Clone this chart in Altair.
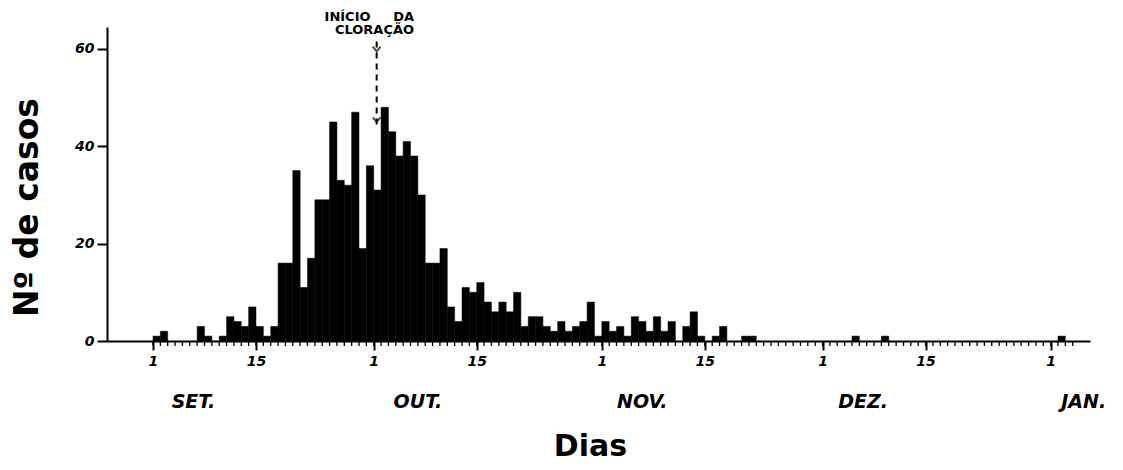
import altair as alt
import pandas as pd

# day offset from 1 September, and daily number of cases
day = [0, 1, 6, 7, 9, 10, 11, 12, 13, 14, 15, 16, 17, 18, 19, 20, 21, 22, 23, 24,
       25, 26, 27, 28, 29, 30, 31, 32, 33, 34, 35, 36, 37, 38, 39, 40, 41, 42, 43, 44,
       45, 46, 47, 48, 49, 50, 51, 52, 53, 54, 55, 56, 57, 58, 59, 60, 61, 62, 63, 64,
       65, 66, 67, 68, 69, 70, 72, 73, 74, 76, 77, 80, 81, 95, 99, 123]
cases = [1, 2, 3, 1, 1, 5, 4, 3, 7, 3, 1, 3, 16, 16, 35, 11, 17, 29, 29, 45,
         33, 32, 47, 19, 36, 31, 48, 43, 38, 41, 38, 30, 16, 16, 19, 7, 4, 11, 10, 12,
         8, 6, 8, 6, 10, 3, 5, 5, 3, 2, 4, 2, 3, 4, 8, 1, 4, 2, 3, 1,
         5, 4, 2, 5, 2, 4, 3, 6, 1, 1, 3, 1, 1, 1, 1, 1]

month_names = ["SET.", "OUT.", "NOV.", "DEZ.", "JAN."]
month_pos = [5.5, 36.0, 66.5, 96.5, 126.5]
first_days = [0, 30, 61, 91, 122]
mid_days = [14, 44, 75, 105]
day_ticks = list(range(0, 126))
y_ticks = [0, 20, 40, 60]

annot_lines = ["INÍCIO\u00a0\u00a0\u00a0\u00a0\u00a0DA", "CLORAÇÃO"]
annot_x = [29.4, 30.1]
annot_y = [66.5, 63.8]
arrow_day = 30.4

FONT = "DejaVu Sans"

bars_df = pd.DataFrame({"day": day, "cases": cases})
bars_df["day_end"] = bars_df["day"] + 1

label_expr = ("indexof([0,30,61,91,122], datum.value) >= 0 ? '1' : "
              "(indexof([14,44,75,105], datum.value) >= 0 ? '15' : '')")

x_scale = alt.Scale(domain=[-6.25, 127.35], nice=False, zero=False)
y_scale = alt.Scale(domain=[0, 64.5], nice=False)

bars = alt.Chart(bars_df).mark_bar(color="black", stroke="black", strokeWidth=0.5).encode(
    x=alt.X("day:Q", scale=x_scale, axis=alt.Axis(
        values=first_days + mid_days, labelExpr=label_expr, grid=False,
        tickSize=9, tickWidth=2,
        tickColor="black", domainColor="black", domainWidth=2,
        labelFont=FONT, labelFontSize=14, labelFontStyle="italic", labelFontWeight="bold",
        labelColor="black", labelPadding=4, labelFlush=False, labelOverlap=False,
        title="Dias", titleFont=FONT, titleFontSize=30, titleFontWeight="bold",
        titleColor="black", titleX=483, titleY=105, titleAnchor="middle",
        titleBaseline="middle", titleAlign="center")),
    x2="day_end:Q",
    y=alt.Y("cases:Q", scale=y_scale, axis=alt.Axis(
        values=y_ticks, grid=False, tickSize=10, tickWidth=2, tickColor="black",
        domainColor="black", domainWidth=2,
        labelFont=FONT, labelFontSize=14, labelFontStyle="italic", labelFontWeight="bold",
        labelColor="black", labelPadding=3,
        title="Nº de casos", titleFont=FONT, titleFontSize=33, titleFontWeight="bold",
        titleColor="black", titleX=-80, titleY=180, titleAngle=-90,
        titleAlign="center", titleBaseline="middle")),
    y2=alt.datum(0),
)

ticks_df = pd.DataFrame({"day": day_ticks})
minor_ticks = alt.Chart(ticks_df).mark_rule(color="black", strokeWidth=1.3).encode(
    x=alt.X("day:Q", scale=x_scale), y=alt.value(314), y2=alt.value(319))

months_df = pd.DataFrame({"day": month_pos, "name": month_names})
months = alt.Chart(months_df).mark_text(
    font=FONT, fontSize=19, fontStyle="italic", fontWeight="bold", color="black",
    baseline="middle", align="center"
).encode(x=alt.X("day:Q", scale=x_scale), y=alt.value(375), text="name:N")

annot_df = pd.DataFrame({"day": annot_x, "y": annot_y, "t": annot_lines})
annot = alt.Chart(annot_df).mark_text(
    font=FONT, fontSize=13, fontWeight="bold", color="black", baseline="middle", align="center"
).encode(x=alt.X("day:Q", scale=x_scale), y=alt.Y("y:Q", scale=y_scale), text="t:N")

arrow_df = pd.DataFrame({"day": [arrow_day], "y1": [61.5], "y2": [44.2]})
arrow_line = alt.Chart(arrow_df).mark_rule(color="black", strokeWidth=2, strokeDash=[6, 5]).encode(
    x=alt.X("day:Q", scale=x_scale), y=alt.Y("y1:Q", scale=y_scale), y2="y2:Q")

heads_df = pd.DataFrame({"day": [arrow_day, arrow_day], "y": [59.5, 45.0]})
heads = alt.Chart(heads_df).mark_point(
    shape="M -1 -1.2 L 0 0 L 1 -1.2", filled=False, color="black", strokeWidth=2, size=60
).encode(x=alt.X("day:Q", scale=x_scale), y=alt.Y("y:Q", scale=y_scale))

chart = alt.layer(bars, minor_ticks, months, annot, arrow_line, heads).properties(
    width=983, height=314,
    autosize=alt.AutoSizeParams(type="none"),
    padding={"left": 99, "top": 19, "right": 16, "bottom": 121},
).configure(background="white", view=alt.ViewConfig(stroke=None))

chart.save("out.html", embed_options={"renderer": "svg", "actions": False})
